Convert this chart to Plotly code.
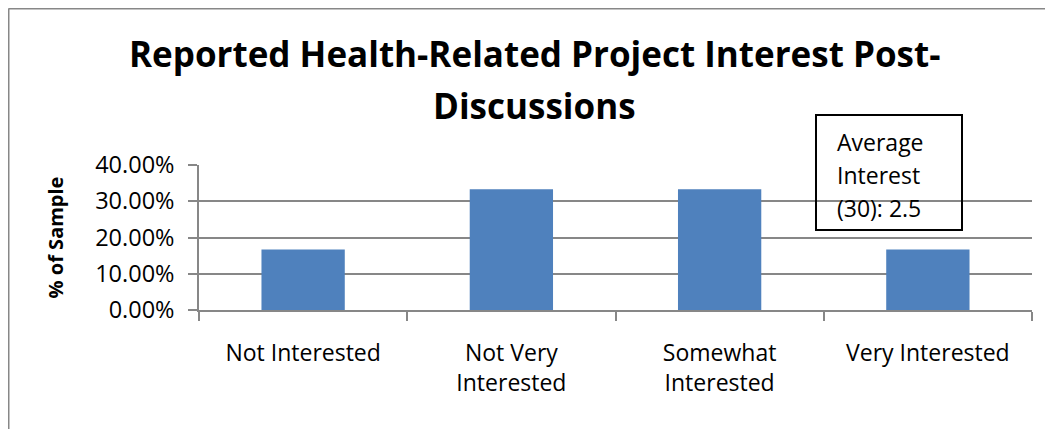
import plotly.graph_objects as go

categories = ["Not Interested", "Not Very<br>Interested", "Somewhat<br>Interested", "Very Interested"]
percent_of_sample = [0.1667, 0.3333, 0.3333, 0.1667]
y_ticks = [0.0, 0.1, 0.2, 0.3, 0.4]
title_lines = ["Reported Health-Related Project Interest Post-", "Discussions"]
note_lines = ["Average", "Interest", "(30): 2.5"]
y_title = "% of Sample"

OFF = 8  # page body margin
W, H = 1053 - OFF, 429 - OFF
# plot area edges in page pixels
L, R, T, B = 199, 1032, 165, 310

def px(x):
    return (x - L) / (R - L)

def py(y):
    return (B - y) / (B - T)

FONT = "Open Sans"
GRID = "#878787"

fig = go.Figure(go.Bar(
    x=categories, y=percent_of_sample,
    marker=dict(color="#4F81BD", line=dict(width=0)),
    hoverinfo="skip",
))

fig.update_layout(
    width=W, height=H,
    margin=dict(l=L - OFF, r=W - (R - OFF), t=T - OFF, b=H - (B - OFF), pad=0),
    paper_bgcolor="white", plot_bgcolor="white",
    bargap=0.6,
    showlegend=False,
    font=dict(family=FONT, size=23, color="black"),
)

fig.update_xaxes(
    type="category",
    tickson="boundaries", ticks="outside", ticklen=9, tickcolor=GRID, tickwidth=1.5,
    showline=True, linecolor=GRID, linewidth=1.5,
    showgrid=False,
    ticklabelstandoff=22,
    tickfont=dict(family=FONT, size=23, color="black"),
)
fig.update_yaxes(
    range=[0, 0.4], tickvals=y_ticks, tickformat=".2%",
    ticks="outside", ticklen=9, tickcolor=GRID, tickwidth=1.5,
    showline=True, linecolor=GRID, linewidth=1.5,
    showgrid=True, gridcolor=GRID, gridwidth=1.5,
    zeroline=False,
    ticklabelstandoff=9,
    tickfont=dict(family=FONT, size=23.5, color="black"),
    title=dict(text="<b>" + y_title + "</b>", font=dict(family=FONT, size=20, color="black"), standoff=26),
)

annotations = []
# title lines
for line, yc in zip(title_lines, [53.5, 105.5]):
    annotations.append(dict(
        text="<b>" + line + "</b>", xref="paper", yref="paper",
        x=px(534), y=py(yc), xanchor="center", yanchor="middle",
        showarrow=False, font=dict(family=FONT, size=35, color="black"),
    ))
# text box lines
for line, yc in zip(note_lines, [142, 175, 208]):
    annotations.append(dict(
        text=line, xref="paper", yref="paper",
        x=px(835), y=py(yc), xanchor="left", yanchor="middle",
        showarrow=False, font=dict(family=FONT, size=23, color="black"),
    ))
fig.update_layout(annotations=annotations)

shapes = [
    # text box
    dict(type="rect", xref="paper", yref="paper",
         x0=px(816), x1=px(962), y0=py(230), y1=py(115),
         line=dict(color="black", width=2), fillcolor="rgba(0,0,0,0)", layer="above"),
    # outer chart border (left and top)
    dict(type="line", xref="paper", yref="paper",
         x0=px(8.5), x1=px(8.5), y0=py(8.5), y1=py(440),
         line=dict(color=GRID, width=2)),
    dict(type="line", xref="paper", yref="paper",
         x0=px(8.5), x1=px(1060), y0=py(8.5), y1=py(8.5),
         line=dict(color=GRID, width=2)),
]
fig.update_layout(shapes=shapes)

fig.write_html("out.html")
